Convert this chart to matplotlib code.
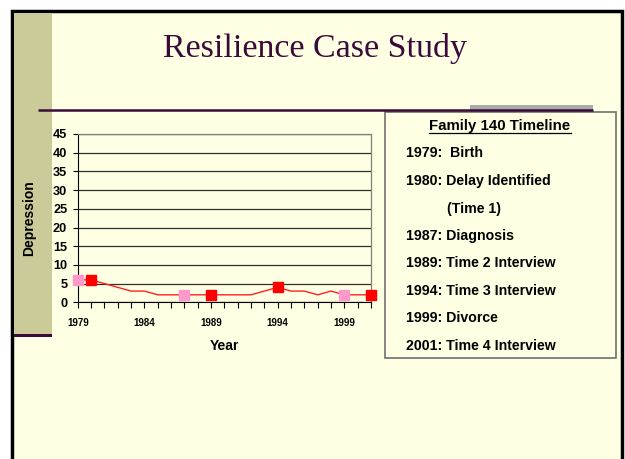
import matplotlib
matplotlib.use("Agg")
import matplotlib.pyplot as plt
from matplotlib.patches import Rectangle

# ---- data ----
years = list(range(1979, 2002))
depression = [6, 6, 5, 4, 3, 3, 2, 2, 2, 2, 2, 2, 2, 2, 3, 4, 3, 3, 2, 3, 2, 2, 2]
event_years = [1979, 1987, 1999]
event_values = [6, 2, 2]
interview_years = [1980, 1989, 1994, 2001]
interview_values = [6, 2, 4, 2]
y_ticks = [0, 5, 10, 15, 20, 25, 30, 35, 40, 45]
x_tick_labels = [1979, 1984, 1989, 1994, 1999]
title = "Resilience Case Study"
timeline_title = "Family 140 Timeline"
timeline = ["1979:  Birth", "1980: Delay Identified", "(Time 1)", "1987: Diagnosis",
            "1989: Time 2 Interview", "1994: Time 3 Interview", "1999: Divorce",
            "2001: Time 4 Interview"]

W, H = 625, 459
BG = "#FFFFE3"
OLIVE = "#CBCB9A"
PURPLE = "#3A0A3A"
SANS = "Liberation Sans"

fig = plt.figure(figsize=(W / 100, H / 100), dpi=100)
fig.patch.set_facecolor("white")

# decoration layer in pixel coordinates
deco = fig.add_axes([0, 0, 1, 1])
deco.set_xlim(0, W)
deco.set_ylim(H, 0)
deco.axis("off")

deco.add_patch(Rectangle((12, 11), 610, 460, facecolor=BG, edgecolor="black", linewidth=2.5))
deco.add_patch(Rectangle((13.5, 12.5), 38.5, 322, facecolor=OLIVE, edgecolor="none"))
deco.add_patch(Rectangle((13.5, 334), 38.5, 3, facecolor=PURPLE, edgecolor="none"))
deco.add_patch(Rectangle((470, 105), 123, 12, facecolor="#AAAAAA", edgecolor="none"))
deco.plot([38, 593], [110, 110], color=PURPLE, linewidth=1.8, solid_capstyle="butt")

deco.text(315, 57, title, family="Liberation Serif", fontsize=24.5, color=PURPLE,
          ha="center", va="baseline")

# timeline box
deco.add_patch(Rectangle((385, 112), 231, 246, facecolor=BG, edgecolor="#707070", linewidth=1.2))
deco.text(500, 126, timeline_title, family=SANS, fontweight="bold",
          fontsize=10.8, ha="center", va="center")
deco.plot([429, 571], [133, 133], color="black", linewidth=0.9)
line_y = [153, 181, 209, 236, 263, 291, 318, 346]
for txt, yy in zip(timeline, line_y):
    xx = 447 if txt.startswith("(") else 406
    deco.text(xx, yy, txt, family=SANS, fontweight="bold",
              fontsize=10.2, ha="left", va="center")

# chart
left, right, top, bottom = 77.8, 371, 134, 302.3
ax = fig.add_axes([left / W, 1 - bottom / H, (right - left) / W, (bottom - top) / H])
ax.set_facecolor(BG)
ax.set_xlim(years[0], years[-1])
ax.set_ylim(0, 45)
ax.set_yticks(y_ticks)
ax.set_yticklabels([str(v) for v in y_ticks], family=SANS,
                   fontweight="bold", fontsize=9.2)
ax.set_xticks(x_tick_labels)
ax.set_xticklabels([str(v) for v in x_tick_labels], family=SANS,
                   fontweight="bold", fontsize=7)
ax.set_xticks(years, minor=True)
ax.tick_params(axis="x", which="both", direction="out", length=4, width=0.8, pad=7)
ax.tick_params(axis="y", direction="out", length=3.6, width=0.8, pad=4)
ax.grid(axis="y", color="#303030", linewidth=0.9)
ax.set_axisbelow(True)
for s in ["top", "right"]:
    ax.spines[s].set_color("#808080")
    ax.spines[s].set_linewidth(0.9)
ax.spines["left"].set_color("black")
ax.spines["bottom"].set_color("black")

ax.plot(years, depression, color="#FF2020", linewidth=1.0, zorder=3)
ax.plot(event_years, event_values, linestyle="none", marker="s", markersize=6.5,
        color="#FF99CC", clip_on=False, zorder=4)
ax.plot(interview_years, interview_values, linestyle="none", marker="s", markersize=6.5,
        color="#FF0000", clip_on=False, zorder=4)

ax.set_ylabel("Depression", family=SANS, fontweight="bold", fontsize=10)
ax.yaxis.set_label_coords((36 - left) / (right - left), 0.5)
ax.set_xlabel("Year", family=SANS, fontweight="bold", fontsize=10)
ax.xaxis.set_label_coords((224 - left) / (right - left), -(339 - bottom) / (bottom - top))

fig.savefig("out.png", dpi=100, facecolor=fig.get_facecolor())
